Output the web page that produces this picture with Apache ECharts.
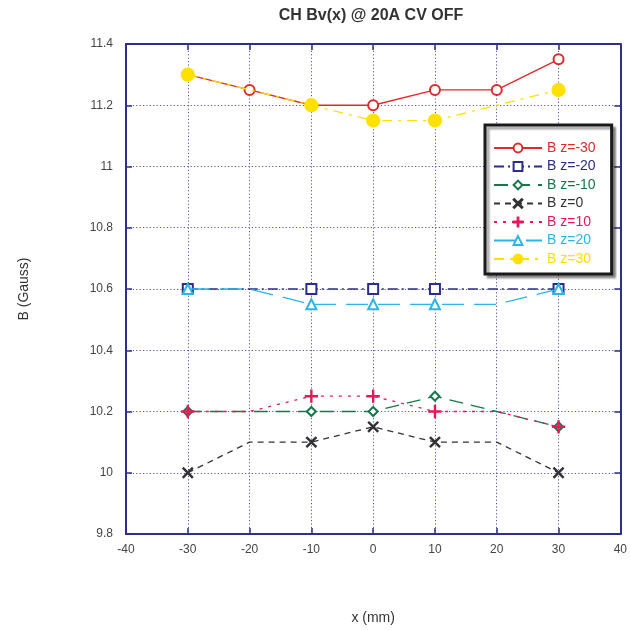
<!DOCTYPE html>
<html><head><meta charset="utf-8">
<script src="https://cdn.jsdelivr.net/npm/echarts@6/dist/echarts.min.js"></script>
<style>html,body{margin:0;padding:0;background:#fff}#c{width:630px;height:630px}</style>
</head><body><div id="c"></div>
<script>
const xValues = [-30, -20, -10, 0, 10, 20, 30];
const seriesNames = ['B z=-30', 'B z=-20', 'B z=-10', 'B z=0', 'B z=10', 'B z=20', 'B z=30'];
const zm30 = [11.3, 11.25, 11.2, 11.2, 11.25, 11.25, 11.35];
const zm20 = [10.6, 10.6, 10.6, 10.6, 10.6, 10.6, 10.6];
const zm10 = [10.2, 10.2, 10.2, 10.2, 10.25, 10.2, 10.15];
const z0 = [10.0, 10.1, 10.1, 10.15, 10.1, 10.1, 10.0];
const z10 = [10.2, 10.2, 10.25, 10.25, 10.2, 10.2, 10.15];
const z20 = [10.6, 10.6, 10.55, 10.55, 10.55, 10.55, 10.6];
const z30 = [11.3, 11.25, 11.2, 11.15, 11.15, 11.2, 11.25];
const xTicks = [-40, -30, -20, -10, 0, 10, 20, 30, 40];

const NAVY = '#2e2f86';
const X_PATH = 'path://M0,0.8L0.8,0L5,4.2L9.2,0L10,0.8L5.8,5L10,9.2L9.2,10L5,5.8L0.8,10L0,9.2L4.2,5Z';
const PLUS_PATH = 'path://M4.55,0H5.45V4.55H10V5.45H5.45V10H4.55V5.45H0V4.55H4.55Z';

const styles = [
  {color:'#e02a2a', symbol:'emptyCircle', size:10, type:'solid', all:true},
  {color:'#2b2d8a', symbol:'emptyRect', size:10, type:[10,4,2,4]},
  {color:'#16774a', symbol:'emptyDiamond', size:9, type:[14,8]},
  {color:'#333333', symbol:X_PATH, size:10, type:[6,5]},
  {color:'#e5195a', symbol:PLUS_PATH, size:12, type:[3,6]},
  {color:'#2cb5e6', symbol:'emptyTriangle', size:10, type:[22,10]},
  {color:'#ffe100', symbol:'circle', size:13, type:[10,6,3,6]}
];
const allData = [zm30, zm20, zm10, z0, z10, z20, z30];

const series = allData.map((vals, i) => {
  const st = styles[i];
  return {
    name: seriesNames[i],
    type: 'line',
    xAxisIndex: 0, yAxisIndex: 0,
    symbol: st.symbol,
    symbolSize: st.size,
    showAllSymbol: true,
    z: 10 + i,
    lineStyle: {color: st.color, width: 1.3, type: st.type},
    itemStyle: {color: st.color, borderColor: st.color, borderWidth: 1.3},
    data: vals.map((v, k) => {
      const x = xValues[k];
      if (!st.all && (x === -20 || x === 20)) return {value: [x, v], symbol: 'none'};
      return [x, v];
    })
  };
});

const chart = echarts.init(document.getElementById('c'), null, {renderer: 'canvas'});
const axisCommon = {
  axisLine: {show: true, onZero: false, lineStyle: {color: NAVY, width: 2}},
  axisTick: {show: true, inside: true, length: 6, lineStyle: {color: NAVY, width: 1.5}},
};
chart.setOption({
  animation: false,
  backgroundColor: '#fff',
  title: {text: 'CH Bv(x) @ 20A CV OFF', left: 366, top: 3, textAlign: 'center',
    textStyle: {fontFamily: 'Liberation Sans', fontSize: 16, fontWeight: 'bold', color: '#333'}},
  legend: {
    orient: 'vertical', left: 485, top: 125,
    padding: [16, 16, 8, 8], itemGap: 4.5, itemWidth: 48, itemHeight: 11,
    backgroundColor: '#fff', borderColor: '#1a1a1a', borderWidth: 3,
    shadowColor: 'rgba(0,0,0,0.35)', shadowOffsetX: 3, shadowOffsetY: 3, shadowBlur: 2,
    textStyle: {fontFamily: 'Liberation Sans', fontSize: 14},
    data: seriesNames.map((n, i) => ({name: n, textStyle: {color: styles[i].color}}))
  },
  grid: {left: 126, right: 8, top: 44, bottom: 90, containLabel: false},
  xAxis: [
    Object.assign({type: 'value', min: xTicks[0], max: xTicks[xTicks.length-1], interval: 10,
      name: 'x (mm)', nameLocation: 'middle', nameGap: 77,
      nameTextStyle: {fontFamily: 'Liberation Sans', fontSize: 14, color: '#333'},
      axisLabel: {fontFamily: 'Liberation Sans', fontSize: 12, color: '#444', margin: 10},
      splitLine: {show: true, lineStyle: {color: '#5558a8', type: [1.2, 2.2], width: 1}}}, axisCommon),
    Object.assign({type: 'value', position: 'top', min: -40, max: 40, interval: 10,
      axisLabel: {show: false}, splitLine: {show: false}}, axisCommon)
  ],
  yAxis: [
    Object.assign({type: 'value', min: 9.8, max: 11.4, interval: 0.2,
      name: 'B (Gauss)', nameLocation: 'middle', nameGap: 95, nameRotate: 90,
      nameTextStyle: {fontFamily: 'Liberation Sans', fontSize: 14, color: '#333'},
      axisLabel: {fontFamily: 'Liberation Sans', fontSize: 12, color: '#444', margin: 13,
        formatter: v => String(Math.round(v * 10) / 10)},
      splitLine: {show: true, lineStyle: {color: '#5558a8', type: [1.2, 2.2], width: 1}}}, axisCommon),
    Object.assign({type: 'value', position: 'right', min: 9.8, max: 11.4, interval: 0.2,
      axisLabel: {show: false}, splitLine: {show: false}}, axisCommon)
  ],
  series: series
});
</script></body></html>
